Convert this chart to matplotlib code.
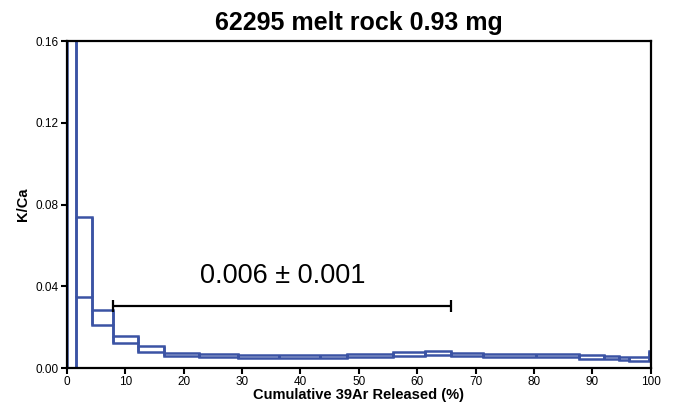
import matplotlib
matplotlib.use('Agg')
import matplotlib.pyplot as plt
import numpy as np

plt.rcParams['font.family'] = ['Liberation Sans', 'DejaVu Sans']

# step edges (cumulative 39Ar %) and K/Ca band per step
edges = [0, 1.6, 4.3, 7.8, 12.2, 16.7, 22.6, 29.3, 36.3, 43.3, 48.0, 55.9,
         61.4, 65.75, 71.3, 80.4, 87.7, 92.0, 94.6, 96.3, 99.7, 100]
upper = [0.5, 0.074, 0.0284, 0.0157, 0.0108, 0.0074, 0.0068, 0.0066, 0.0064,
         0.0064, 0.0068, 0.0078, 0.0082, 0.0074, 0.0070, 0.0069, 0.0063,
         0.0061, 0.0056, 0.0052, 0.0085]
lower = [-0.05, 0.0346, 0.0209, 0.0121, 0.0080, 0.0057, 0.0052, 0.0050, 0.0048,
         0.0048, 0.0052, 0.0061, 0.0065, 0.0057, 0.0053, 0.0052, 0.0046,
         0.0044, 0.0040, 0.0036, 0.0040]

plateau_x = [7.8, 65.75]
plateau_y = 0.0303
plateau_text = '0.006 ± 0.001'

blue = '#3b53a4'
lw = 1.8

fig = plt.figure(figsize=(6.8, 4.11), dpi=100)
ax = fig.add_axes([0.0985, 0.1046, 0.8585, 0.7956])

# upper and lower bounds of the spectrum as connected steps, plus each step's box
ax.stairs(upper, edges, baseline=None, color=blue, lw=lw)
ax.stairs(lower, edges, baseline=None, color=blue, lw=lw)
ax.vlines(edges[:-1], lower, upper, color=blue, lw=lw)
ax.vlines(edges[1:], lower, upper, color=blue, lw=lw)

ax.errorbar([np.mean(plateau_x)], [plateau_y], xerr=[(plateau_x[1] - plateau_x[0]) / 2],
            fmt='none', ecolor='black', elinewidth=1.6, capsize=4, capthick=1.6)
ax.text(36.9, plateau_y + 0.0082, plateau_text, fontsize=19.5,
        ha='center', va='bottom')

ax.set_xlim(0, 100)
ax.set_ylim(0, 0.16)
ax.set_xticks(np.arange(0, 101, 10))
ax.set_yticks(np.arange(0, 0.161, 0.04))
ax.set_yticklabels(['%.2f' % v for v in np.arange(0, 0.161, 0.04)])
ax.tick_params(direction='out', length=4, width=1.5, labelsize=8.5, pad=2)
for s in ax.spines.values():
    s.set_linewidth(1.6)

ax.set_xlabel('Cumulative 39Ar Released (%)', fontsize=10.5, fontweight='bold', labelpad=0)
ax.set_ylabel('K/Ca', fontsize=10.5, fontweight='bold', labelpad=4)
ax.set_title('62295 melt rock 0.93 mg', fontsize=18, fontweight='bold', pad=8)

fig.savefig('out.png', dpi=100)
